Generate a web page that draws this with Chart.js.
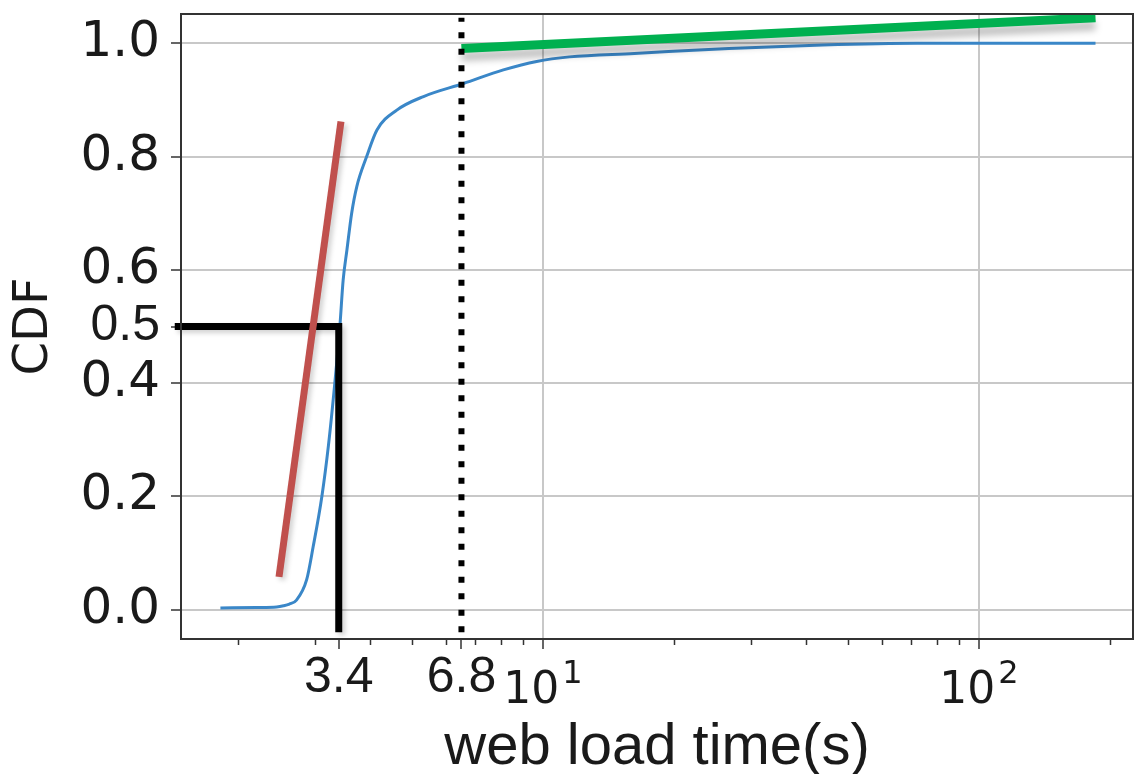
<!DOCTYPE html>
<html>
<head>
<meta charset="utf-8">
<title>CDF of web load time</title>
<script src="https://cdn.jsdelivr.net/npm/chart.js@4.4.1/dist/chart.umd.min.js"></script>
<style>
  html, body { margin: 0; padding: 0; background: #fff; }
  #wrap { width: 1137px; height: 774px; position: relative; }
</style>
</head>
<body>
<div id="wrap"><canvas id="chart"></canvas></div>
<script>
const cdfTime  = [1.82, 2.2, 2.45, 2.54, 2.62, 2.72, 2.87, 2.97, 3.11, 3.22, 3.33, 3.42, 3.48, 3.55, 3.64, 3.74, 3.94, 4.16, 4.62, 5.32, 6.57, 8.11, 9.67, 11.5, 16.2, 26.7, 43.8, 72.0, 185];
const cdfValue = [0.003, 0.004, 0.005, 0.007, 0.01, 0.017, 0.053, 0.111, 0.2, 0.29, 0.4, 0.5, 0.582, 0.635, 0.70, 0.747, 0.80, 0.847, 0.882, 0.906, 0.929, 0.953, 0.968, 0.976, 0.982, 0.991, 0.997, 1.0, 1.0];

// steep red segment (body of the distribution)
const fitTime  = [2.48, 3.44];
const fitValue = [0.058, 0.862];

// green segment (tail)
const tailTime  = [6.5, 185];
const tailValue = [0.991, 1.045];

// median marker: 0.5 -> 3.4 s
const medianTime  = [1.43, 3.4, 3.4];
const medianValue = [0.5, 0.5, -0.04];

// dotted cut-off line
const cutoffTime  = [6.5, 6.5];
const cutoffValue = [-0.04, 1.045];

// axes
const xTickValues = [3.4, 6.5, 10, 100];
const xTickLabels = ['3.4', '6.8', '10^1', '10^2'];
const xMinorTicks = [2, 3, 4, 5, 6, 7, 8, 9, 20, 30, 40, 50, 60, 70, 80, 90, 200];
const yTickValues = [0, 0.2, 0.4, 0.5, 0.6, 0.8, 1.0];

const toPoints = (xs, ys) => xs.map((x, i) => ({ x: x, y: ys[i] }));
const isPower = label => label.indexOf('^') > 0;

const DEJAVU = "'DejaVu Sans', sans-serif";
const LIBERATION = "'Liberation Sans', Arial, sans-serif";

// soft drop shadow on some of the lines, like in the original picture
const shadowPlugin = {
  id: 'lineShadow',
  beforeDatasetDraw(chart, args) {
    const ds = chart.data.datasets[args.index];
    if (!ds.shadow) return;
    const ctx = chart.ctx;
    ctx.save();
    ctx.shadowColor = ds.shadow.color;
    ctx.shadowBlur = ds.shadow.blur;
    ctx.shadowOffsetX = ds.shadow.x;
    ctx.shadowOffsetY = ds.shadow.y;
  },
  afterDatasetDraw(chart, args) {
    const ds = chart.data.datasets[args.index];
    if (ds.shadow) chart.ctx.restore();
  }
};

// box around the plot, minor ticks on the log axis, and 10^n labels with a real superscript
const framePlugin = {
  id: 'frame',
  afterDraw(chart) {
    const { ctx, chartArea: a } = chart;
    const xs = chart.scales.x;
    ctx.save();
    ctx.strokeStyle = '#333';
    ctx.lineWidth = 2;
    ctx.strokeRect(a.left, a.top, a.right - a.left, a.bottom - a.top);
    ctx.lineWidth = 1.5;
    ctx.beginPath();
    xMinorTicks.forEach(v => {
      if (v < xs.min || v > xs.max) return;
      const px = Math.round(xs.getPixelForValue(v)) + 0.5;
      ctx.moveTo(px, a.bottom);
      ctx.lineTo(px, a.bottom + 6);
    });
    ctx.stroke();

    ctx.fillStyle = '#1a1a1a';
    ctx.textAlign = 'left';
    ctx.textBaseline = 'alphabetic';
    xTickLabels.forEach((label, i) => {
      if (!isPower(label)) return;
      const [base, exp] = label.split('^');
      const px = xs.getPixelForValue(xTickValues[i]);
      ctx.font = '44px ' + DEJAVU;
      const wBase = ctx.measureText(base).width;
      ctx.font = '32px ' + DEJAVU;
      const wExp = ctx.measureText(exp).width;
      const left = px - (wBase + 3 + wExp) / 2;
      ctx.font = '44px ' + DEJAVU;
      ctx.fillText(base, left, a.bottom + 64);
      ctx.font = '32px ' + DEJAVU;
      ctx.fillText(exp, left + wBase + 3, a.bottom + 44);
    });
    ctx.restore();
  }
};

const config = {
  type: 'line',
  data: {
    datasets: [
      {
        label: 'cut-off',
        data: toPoints(cutoffTime, cutoffValue),
        borderColor: '#000',
        borderWidth: 6,
        borderDash: [6, 10.5],
        borderCapStyle: 'butt',
        pointRadius: 0
      },
      {
        label: 'tail',
        data: toPoints(tailTime, tailValue),
        borderColor: '#00b050',
        borderWidth: 9,
        pointRadius: 0,
        shadow: { color: 'rgba(0,0,0,0.25)', blur: 7, x: 0, y: 8 }
      },
      {
        label: 'body',
        data: toPoints(fitTime, fitValue),
        borderColor: '#c0504d',
        borderWidth: 7,
        pointRadius: 0,
        shadow: { color: 'rgba(0,0,0,0.18)', blur: 5, x: 3, y: 3 }
      },
      {
        label: 'median',
        data: toPoints(medianTime, medianValue),
        borderColor: '#000',
        borderWidth: 7,
        borderJoinStyle: 'miter',
        pointRadius: 0,
        clip: false,
        shadow: { color: 'rgba(0,0,0,0.18)', blur: 5, x: 3, y: 3 }
      },
      {
        label: 'CDF',
        data: toPoints(cdfTime, cdfValue),
        borderColor: '#3a87c8',
        borderWidth: 3,
        pointRadius: 0,
        cubicInterpolationMode: 'monotone'
      }
    ]
  },
  options: {
    responsive: true,
    maintainAspectRatio: false,
    animation: false,
    layout: { padding: { top: 14, right: 4, left: 0, bottom: 0 } },
    plugins: {
      legend: { display: false },
      tooltip: { enabled: false }
    },
    scales: {
      x: {
        type: 'logarithmic',
        min: 1.478,
        max: 225.5,
        bounds: 'data',
        afterBuildTicks(scale) {
          scale.ticks = xTickValues.map(v => ({ value: v }));
        },
        afterFit(scale) {
          scale.height = 135;
          scale.paddingLeft = 0;
          scale.paddingRight = 0;
        },
        grid: {
          color: ctx => (ctx.tick && ctx.tick.value >= 10) ? '#c8c8c8' : 'rgba(0,0,0,0)',
          lineWidth: 2,
          tickColor: '#333',
          tickLength: 10,
          tickWidth: 1.5
        },
        border: { color: '#333', width: 2 },
        ticks: {
          autoSkip: false,
          maxRotation: 0,
          padding: 0,
          color: '#1a1a1a',
          font: { family: LIBERATION, size: 50, lineHeight: 1.15 },
          // powers of ten are drawn by the frame plugin with a proper superscript
          callback: (value, index) => isPower(xTickLabels[index]) ? '' : xTickLabels[index]
        },
        title: {
          display: true,
          text: 'web load time(s)',
          color: '#1a1a1a',
          font: { family: LIBERATION, size: 58, lineHeight: 0.9 },
          padding: { top: 0, bottom: 0 }
        }
      },
      y: {
        type: 'linear',
        min: -0.0517,
        max: 1.0517,
        bounds: 'data',
        afterBuildTicks(scale) {
          scale.ticks = yTickValues.map(v => ({ value: v }));
        },
        afterFit(scale) {
          scale.width = 181;
          scale.paddingTop = 0;
          scale.paddingBottom = 0;
        },
        grid: {
          color: ctx => (ctx.tick && ctx.tick.value === 0.5) ? 'rgba(0,0,0,0)' : '#c8c8c8',
          lineWidth: 2,
          tickColor: '#333',
          tickLength: 10,
          tickWidth: 1.5
        },
        border: { color: '#333', width: 2 },
        ticks: {
          padding: 11,
          color: '#1a1a1a',
          font: ctx => (ctx.tick && ctx.tick.value === 0.5)
            ? { family: LIBERATION, size: 50 }
            : { family: DEJAVU, size: 50 },
          callback: value => value.toFixed(1)
        },
        title: {
          display: true,
          text: 'CDF',
          color: '#1a1a1a',
          font: { family: DEJAVU, size: 48 },
          padding: { top: 6, bottom: 0 }
        }
      }
    }
  },
  plugins: [shadowPlugin, framePlugin]
};

new Chart(document.getElementById('chart'), config);
</script>
</body>
</html>
